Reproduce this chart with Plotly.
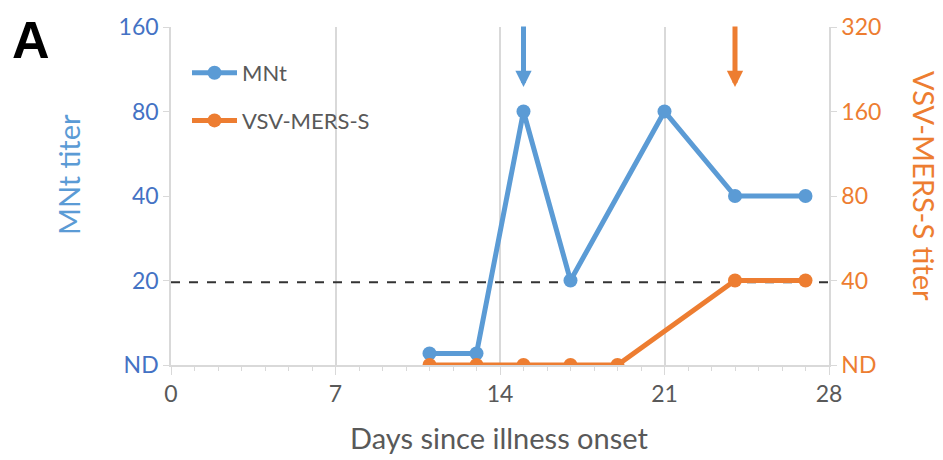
import math
import plotly.graph_objects as go

# ---- data ----
mnt_days = [11, 13, 15, 17, 21, 24, 27]
mnt_titer = [11, 11, 80, 20, 80, 40, 40]          # ND plotted slightly above ND line
vsv_days = [11, 13, 15, 17, 19, 24, 27]
vsv_titer = [20, 20, 20, 20, 20, 40, 40]          # 20 == ND on right axis
threshold = 19.7
x_ticks = [0, 7, 14, 21, 28]
left_tickvals = [10, 20, 40, 80, 160]
left_ticktext = ["ND", "20", "40", "80", "160"]
right_tickvals = [20, 40, 80, 160, 320]
right_ticktext = ["ND", "40", "80", "160", "320"]
arrow_days = [15, 24]

BLUE = "#5B9BD5"
BLUE_TXT = "#4472C4"
ORANGE = "#ED7D31"
GRID = "#D9D9D9"
FONT = "Lato"

W, H = 943, 460
L, R, T, B = 171, 829, 27, 365


def px(xp):
    return (xp - L) / (R - L)


def py(yp):
    return (B - yp) / (B - T)


fig = go.Figure()
fig.add_trace(go.Scatter(x=[0, 28], y=[threshold, threshold], mode="lines",
                         line=dict(color="#333333", width=2, dash="dash"),
                         showlegend=False, hoverinfo="skip"))
fig.add_trace(go.Scatter(x=mnt_days, y=mnt_titer, mode="lines+markers", name="MNt",
                         line=dict(color=BLUE, width=5), marker=dict(size=14, color=BLUE),
                         legendgroup="a"))
fig.add_trace(go.Scatter(x=vsv_days, y=vsv_titer, mode="lines+markers", name="VSV-MERS-S",
                         line=dict(color=ORANGE, width=5), marker=dict(size=14, color=ORANGE),
                         yaxis="y2", legendgroup="b"))

fig.update_layout(
    width=W, height=H,
    margin=dict(l=L, r=W - R, t=T, b=H - B),
    plot_bgcolor="white", paper_bgcolor="white",
    font=dict(family=FONT, size=22, color="#595959"),
    xaxis=dict(range=[0, 28], tickvals=x_ticks, showgrid=True, gridcolor=GRID, gridwidth=1.5,
               showline=True, linecolor=GRID, linewidth=1.5, ticks="outside", ticklen=8,
               tickcolor=GRID, tickfont=dict(size=23, color="#595959"), zeroline=False,
               minor=dict(dtick=1, ticks="outside", ticklen=4, tickcolor=GRID, showgrid=False)),
    yaxis=dict(type="log", range=[1, math.log10(160)], tickvals=left_tickvals,
               ticktext=left_ticktext, showgrid=False, showline=True, linecolor=GRID,
               linewidth=1.5, ticks="outside", ticklen=6, tickcolor=GRID, zeroline=False,
               tickfont=dict(size=23, color=BLUE_TXT)),
    yaxis2=dict(type="log", range=[math.log10(20), math.log10(320)], tickvals=right_tickvals,
                ticktext=right_ticktext, overlaying="y", side="right", showgrid=False,
                showline=True, linecolor=GRID, linewidth=1.5, ticks="outside", ticklen=6,
                tickcolor=GRID, zeroline=False, tickfont=dict(size=23, color=ORANGE)),
    legend=dict(x=px(187), y=py(52), xanchor="left", yanchor="top", bgcolor="rgba(0,0,0,0)",
                font=dict(size=22, color="#595959"), itemwidth=45, tracegroupgap=16,
                traceorder="grouped"),
    showlegend=True,
)

annos = [
    dict(text="<b>A</b>", x=px(10), y=py(40), xanchor="left", yanchor="middle",
         font=dict(family="Liberation Sans", size=52, color="black")),
    dict(text="MNt titer", x=px(68), y=py(175), textangle=-90, xanchor="center",
         yanchor="middle", font=dict(size=29, color=BLUE)),
    dict(text="VSV-MERS-S titer", x=px(925), y=py(186), textangle=90, xanchor="center",
         yanchor="middle", font=dict(size=29, color=ORANGE)),
    dict(text="Days since illness onset", x=px(499), y=py(438), xanchor="center",
         yanchor="middle", font=dict(size=29, color="#595959")),
]
for a in annos:
    a.update(xref="paper", yref="paper", showarrow=False)
    fig.add_annotation(**a)

for d, c in zip(arrow_days, [BLUE, ORANGE]):
    fig.add_annotation(x=d, xref="x", y=py(87), yref="paper", ax=0, ay=-62,
                       showarrow=True, arrowhead=2, arrowsize=0.65, arrowwidth=5,
                       arrowcolor=c, text="")

fig.write_html("out.html", config={"displayModeBar": False},
               post_script="document.body.style.margin='0px';")
